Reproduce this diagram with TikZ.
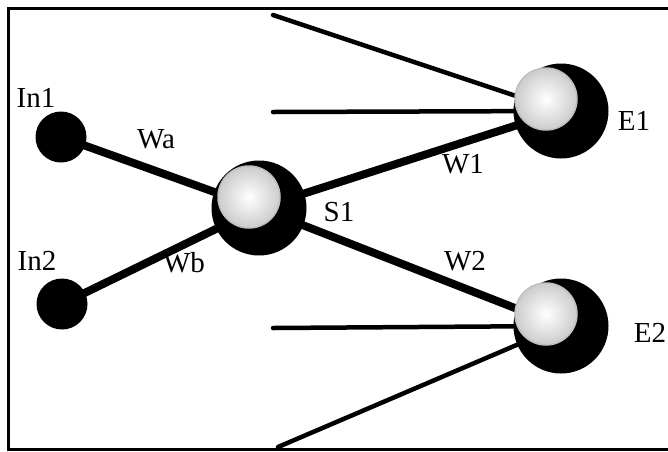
\documentclass[tikz,border=0pt]{standalone}
\usepackage{fontspec}
\setmainfont{Liberation Serif}
\usetikzlibrary{backgrounds}
\begin{document}
\begin{tikzpicture}[x=1pt,y=-1pt,
  inode/.style={circle, fill=black, minimum size=51pt, inner sep=0pt},
  hull/.style={circle, fill=black, minimum size=95pt, inner sep=0pt},
  glass/.style={circle, inner color=white, outer color=gray!40, draw=gray!50, line width=1.5pt, minimum size=62pt, inner sep=0pt},
  wire/.style={line width=8pt},
  spoke/.style={line width=4.5pt, line cap=round},
  lbl/.style={font=\fontsize{29}{31}\selectfont, inner sep=0pt},
  frame/.style={line width=3pt}]
\useasboundingbox (0,0) rectangle (668,451);
\coordinate (f1) at (668,8);
\coordinate (f2) at (8,8);
\coordinate (f3) at (8,449);
\coordinate (f4) at (668,449);
\draw[frame] (f1) -- (f2) -- (f3) -- (f4);
% nodes
\node[inode] (in1) at (61,137) {};
\node[inode] (in2) at (62,304) {};
\node[hull] (s1) at (259,208) {};
\node[glass] (s1g) at (249,197) {};
\node[hull] (e1) at (561,111) {};
\node[glass] (e1g) at (546,99) {};
\node[hull] (e2) at (561,326) {};
\node[glass] (e2g) at (546,314) {};
% free ends
\coordinate (c1) at (273,15);
\coordinate (c2) at (273,112);
\coordinate (c3) at (273,328);
\coordinate (c4) at (278,447);
\begin{scope}[on background layer]
\draw[wire] (in1.center) -- (s1.center);
\draw[wire] (in2.center) -- (s1.center);
\draw[wire] (s1.center) -- (e1.center);
\draw[wire] (s1.center) -- (e2.center);
\draw[spoke] (c1) -- (e1.center);
\draw[spoke] (c2) -- (e1.center);
\draw[spoke] (c3) -- (e2.center);
\draw[spoke] (c4) -- (e2.center);
\end{scope}
% labels
\node[lbl] (lin1) at (36,98) {In1};
\node[lbl] (lin2) at (37,261) {In2};
\node[lbl] (lwa) at (156,139) {Wa};
\node[lbl] (lwb) at (184,263) {Wb};
\node[lbl] (ls1) at (339,212) {S1};
\node[lbl] (lw1) at (463,164) {W1};
\node[lbl] (lw2) at (465,261) {W2};
\node[lbl] (le1) at (634,121) {E1};
\node[lbl] (le2) at (650,333) {E2};
\end{tikzpicture}
\end{document}
